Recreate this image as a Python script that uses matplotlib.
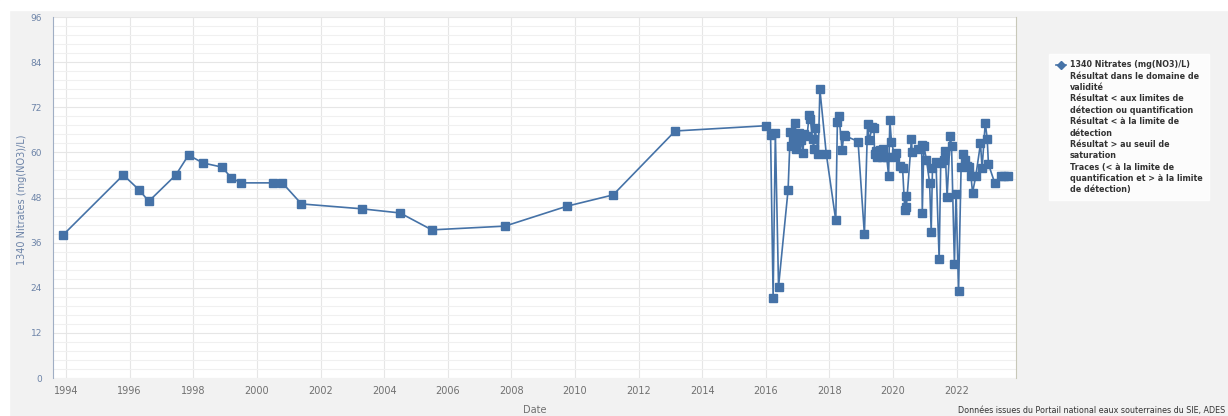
import matplotlib
matplotlib.use("Agg")
import matplotlib.pyplot as plt
from matplotlib.lines import Line2D
from matplotlib.patches import Rectangle

# dates as decimal years, values in mg(NO3)/L
years = [1993.9, 1995.8, 1996.3, 1996.6, 1997.45, 1997.85, 1998.3, 1998.9, 1999.2, 1999.5,
         2000.5, 2000.8, 2001.4, 2003.3, 2004.5, 2005.5, 2007.8, 2009.75, 2011.2, 2013.15,
         2016.0, 2016.15, 2016.23, 2016.3, 2016.4, 2016.7, 2016.77, 2016.8, 2016.85, 2016.93,
         2016.96, 2017.04, 2017.1, 2017.17, 2017.2, 2017.3, 2017.36, 2017.4, 2017.47, 2017.5,
         2017.55, 2017.65, 2017.7, 2017.9, 2018.2, 2018.25, 2018.3, 2018.4, 2018.45, 2018.5,
         2018.9, 2019.1, 2019.2, 2019.25, 2019.35, 2019.4, 2019.42, 2019.45, 2019.5, 2019.6,
         2019.66, 2019.7, 2019.8, 2019.86, 2019.9, 2019.95, 2020.05, 2020.1, 2020.23, 2020.3,
         2020.37, 2020.4, 2020.42, 2020.58, 2020.6, 2020.77, 2020.9, 2020.92, 2020.97, 2021.05,
         2021.15, 2021.2, 2021.24, 2021.35, 2021.45, 2021.5, 2021.6, 2021.64, 2021.7, 2021.8,
         2021.84, 2021.93, 2021.98, 2022.06, 2022.14, 2022.2, 2022.27, 2022.33, 2022.38, 2022.45,
         2022.5, 2022.6, 2022.75, 2022.8, 2022.9, 2022.96, 2023.0, 2023.2, 2023.4, 2023.5,
         2023.6]
nitrates = [38, 54, 50, 47, 54, 59.3, 57.2, 56.1, 53.2, 51.9,
            51.9, 51.9, 46.3, 45, 43.9, 39.4, 40.4, 45.7, 48.7, 65.7,
            67.1, 64.6, 21.4, 65.2, 24.3, 50, 65.5, 61.7, 63.3, 67.7,
            61, 65.2, 63.3, 59.9, 64.9, 64.4, 70, 68.8, 63.7, 61,
            66.6, 59.6, 76.8, 59.7, 41.9, 68, 69.7, 60.6, 64.6, 64.4,
            62.9, 38.2, 67.6, 63.3, 66.8, 66.4, 59.5, 60.5, 58.9, 60.6,
            58.9, 61, 58.9, 53.7, 68.6, 62.9, 58.9, 59.9, 56.4, 55.8,
            44.7, 48.4, 45.6, 63.7, 60.2, 60.8, 62, 44, 61.7, 58.1,
            51.9, 38.9, 55.8, 57.5, 31.6, 57.1, 58.1, 60.5, 48.2, 64.4,
            61.7, 30.3, 48.9, 23.1, 56, 59.7, 58, 56.4, 56.2, 53.7,
            49.3, 53.6, 62.4, 55.8, 67.9, 63.7, 56.9, 51.8, 53.8, 53.8,
            53.8]

xticks = list(range(1994, 2023, 2))
yticks = list(range(0, 97, 12))

legend_labels = ["1340 Nitrates (mg(NO3)/L)",
                 "Résultat dans le domaine de\nvalidité",
                 "Résultat < aux limites de\ndétection ou quantification",
                 "Résultat < à la limite de\ndétection",
                 "Résultat > au seuil de\nsaturation",
                 "Traces (< à la limite de\nquantification et > à la limite\nde détection)"]

blue = "#4572A7"
axis_col = "#6d84a8"

fig = plt.figure(figsize=(12.28, 4.16), dpi=100, facecolor="#f2f2f2")
# white border strip top and left
fig.patches.append(Rectangle((0, 0.976), 1, 0.024, transform=fig.transFigure, color="white", zorder=0))
fig.patches.append(Rectangle((0, 0), 0.007, 1, transform=fig.transFigure, color="white", zorder=0))

ax = fig.add_axes([0.0432, 0.0913, 0.784, 0.8677])
ax.set_facecolor("white")
ax.plot(years, nitrates, color=blue, lw=1.2, marker="s", ms=6, mec=blue, mfc=blue, zorder=3)

ax.set_xlim(1993.59, 2023.86)
ax.set_ylim(0, 96)
ax.set_xticks(xticks)
ax.set_xticklabels([str(t) for t in xticks])
ax.set_yticks(yticks)
ax.set_yticks([i * 2.4 for i in range(41)], minor=True)
ax.grid(True, which="major", axis="both", color="#e6e6e6", lw=0.8)
ax.grid(True, which="minor", axis="y", color="#f0f0f0", lw=0.8)
ax.set_axisbelow(True)

ax.tick_params(axis="x", which="both", length=0, labelsize=7, colors="#707070", pad=6)
ax.tick_params(axis="y", which="both", length=0, labelsize=6.5, colors=axis_col, pad=8)

ax.spines["top"].set_visible(False)
ax.spines["bottom"].set_visible(False)
ax.spines["left"].set_color("#a0aec4")
ax.spines["right"].set_color("#c8c8b8")
ax.spines["right"].set_linewidth(0.8)

ax.set_xlabel("Date", fontsize=7, color="#707070", labelpad=6)
fig.text(22 / 1228, 0.52, "1340 Nitrates (mg(NO3)/L)", rotation=90, fontsize=7,
         color=axis_col, ha="center", va="center")

handles = [Line2D([0], [0], color=blue, lw=1.2, marker="D", ms=4)]
handles += [Line2D([0], [0], color="none") for _ in legend_labels[1:]]
leg = fig.legend(handles, legend_labels, loc="upper left", bbox_to_anchor=(0.851, 0.88),
                 frameon=True, fancybox=False, handlelength=1.3,
                 handletextpad=0.5, labelspacing=0.3, borderpad=0.8,
                 prop={"weight": "bold", "size": 5.8})
leg.get_frame().set_edgecolor("white")
leg.get_frame().set_facecolor("white")
for t in leg.get_texts():
    t.set_color("#333333")
    t.set_linespacing(1.3)

fig.text(0.998, 0.003, "Données issues du Portail national eaux souterraines du SIE, ADES",
         fontsize=5.8, color="#333333", ha="right", va="bottom")

fig.savefig("out.png", dpi=100, facecolor=fig.get_facecolor())
